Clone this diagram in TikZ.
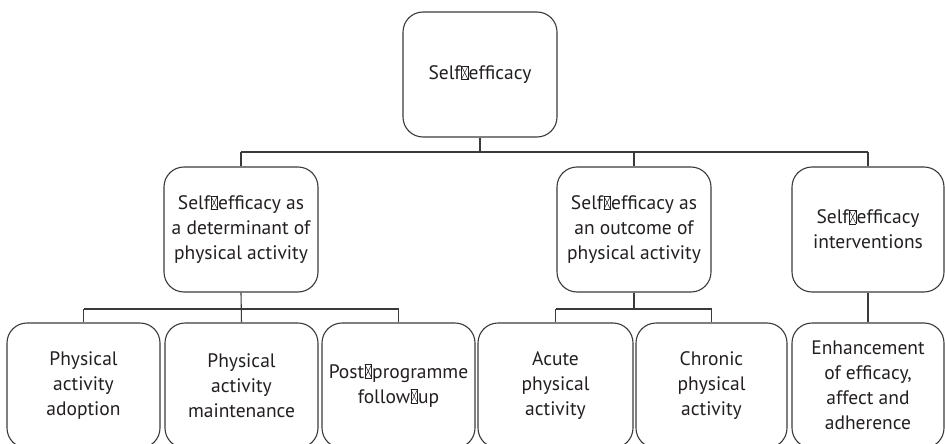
\documentclass[tikz,border=0pt]{standalone}
\usepackage{fontspec}
\usepackage{pict2e}
\setmainfont{PT Sans}
\definecolor{ink}{HTML}{231F20}
\definecolor{rule}{HTML}{3A3A3A}
% placeholder glyph box (crossed rectangle) used where a hyphen is shown missing
\newcommand\nog{{\setlength\unitlength{1pt}\linethickness{0.5pt}%
  \begin{picture}(8,14)
    \put(0.6,0){\line(1,0){6.8}}\put(0.6,13.6){\line(1,0){6.8}}
    \put(0.6,0){\line(0,1){13.6}}\put(7.4,0){\line(0,1){13.6}}
    \put(0.6,0){\line(1,2){6.8}}\put(0.6,13.6){\line(1,-2){6.8}}
  \end{picture}}}
\tikzset{
  box/.style={draw=rule, line width=1.1pt, rounded corners=20pt, inner sep=0pt,
    minimum height=125pt, align=center, text=ink,
    font=\fontsize{19.5}{25}\selectfont},
  link/.style={draw=rule, line width=1.1pt}
}
\begin{document}
\begin{tikzpicture}[x=1pt,y=-1pt]
  \useasboundingbox (0,0) rectangle (945,444);
  \clip (0,0) rectangle (945,444);
  % levels
  \node[box, minimum width=154pt] (top) at (480,74.5) {Self\nog efficacy};
  \node[box, minimum width=154pt] (det) at (241,229.5) {Self\nog efficacy as\\a determinant of\\physical activity};
  \node[box, minimum width=154pt] (out) at (634,229.5) {Self\nog efficacy as\\an outcome of\\physical activity};
  \node[box, minimum width=152pt] (int) at (868,229.5) {Self\nog efficacy\\interventions};
  \node[box, minimum width=153pt] (adopt) at (83.5,385.5) {Physical\\activity\\adoption};
  \node[box, minimum width=153pt] (maint) at (241.5,385.5) {Physical\\activity\\maintenance};
  \node[box, minimum width=153pt] (post) at (398.5,385.5) {Post\nog programme\\follow\nog up};
  \node[box, minimum width=155pt] (acute) at (555.5,385.5) {Acute\\physical\\activity};
  \node[box, minimum width=151pt] (chron) at (711.5,385.5) {Chronic\\physical\\activity};
  \node[box, minimum width=152pt] (enh) at (868,385.5) {Enhancement\\of efficacy,\\affect and\\adherence};
  % bus lines
  \coordinate (busA) at (0,152);
  \coordinate (busB) at (0,309);
  % top to second level
  \draw[link] (top.south) -- (top.south |- busA);
  \draw[link] (det.north |- busA) -- (int.north |- busA);
  \draw[link] (det.north |- busA) -- (det.north);
  \draw[link] (out.north |- busA) -- (out.north);
  \draw[link] (int.north |- busA) -- (int.north);
  % determinant branch
  \draw[link] (det.south) -- (maint.north);
  \draw[link] (adopt.north |- busB) -- (post.north |- busB);
  \draw[link] (adopt.north |- busB) -- (adopt.north);
  \draw[link] (post.north |- busB) -- (post.north);
  % outcome branch
  \draw[link] (out.south) -- (out.south |- busB);
  \draw[link] (acute.north |- busB) -- (chron.north |- busB);
  \draw[link] (acute.north |- busB) -- (acute.north);
  \draw[link] (chron.north |- busB) -- (chron.north);
  % interventions branch
  \draw[link] (int.south) -- (enh.north);
\end{tikzpicture}
\end{document}
